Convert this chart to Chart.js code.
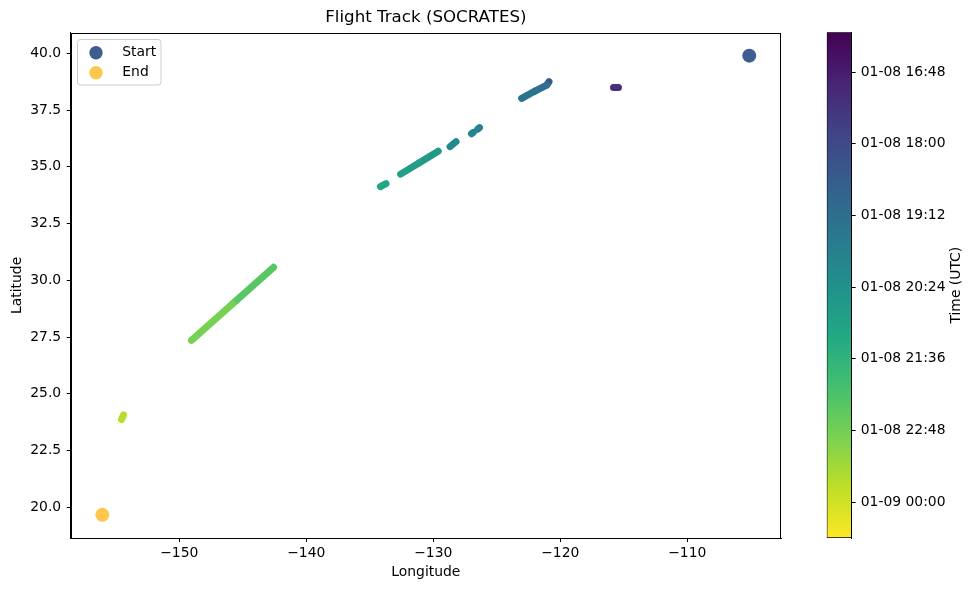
<!DOCTYPE html>
<html>
<head>
<meta charset="utf-8">
<title>Flight Track (SOCRATES)</title>
<script src="https://cdn.jsdelivr.net/npm/chart.js@4.4.0/dist/chart.umd.min.js"></script>
<style>
  html, body { margin: 0; padding: 0; background: #fff; }
  #wrap { position: relative; width: 974px; height: 590px; }
  #track { position: absolute; left: 0; top: 0; }
  #cbar { position: absolute; left: 800px; top: 0; }
</style>
</head>
<body>
<div id="wrap">
  <canvas id="track" width="974" height="590"></canvas>
  <canvas id="cbar" width="174" height="590"></canvas>
</div>
<script>
// flight track; null splits the pieces
var trackLon = [-115.81, -115.42, null,
  -120.89, -121.07, -121.99, -123.04, null,
  -126.36, -126.50, null, -126.85, -126.99, null,
  -128.21, -128.68, null,
  -129.61, -131.10, -132.57, null,
  -133.72, -134.16, null,
  -142.58, -145.81, -149.04, null,
  -154.39, -154.55];
var trackLat = [38.50, 38.50, null,
  38.75, 38.60, 38.34, 38.02, null,
  36.73, 36.66, null, 36.52, 36.46, null,
  36.11, 35.89, null,
  35.69, 35.18, 34.68, null,
  34.26, 34.13, null,
  30.575, 28.965, 27.355, null,
  24.07, 23.87];
var trackTime = ['01-08 17:15', '01-08 17:20', null,
  '01-08 17:55', '01-08 19:05', '01-08 19:15', '01-08 19:28', null,
  '01-08 19:50', '01-08 19:52', null, '01-08 19:56', '01-08 19:58', null,
  '01-08 20:05', '01-08 20:08', null,
  '01-08 20:35', '01-08 20:45', '01-08 20:55', null,
  '01-08 21:05', '01-08 21:08', null,
  '01-08 22:10', '01-08 22:37', '01-08 23:05', null,
  '01-08 23:40', '01-08 23:42'];

var startPoint = [-105.12, 39.90];
var endPoint = [-156.06, 19.67];

var xTicks = [-150, -140, -130, -120, -110];
var yTicks = [20, 22.5, 25, 27.5, 30, 32.5, 35, 37.5, 40];
var cbTicks = ['01-08 16:48', '01-08 18:00', '01-08 19:12', '01-08 20:24',
  '01-08 21:36', '01-08 22:48', '01-09 00:00'];
var timeMin = '01-08 16:08';
var timeMax = '01-09 00:36';

var viridisStops = ['#440154', '#482475', '#414487', '#355f8d', '#2a788e', '#21918c',
  '#22a884', '#44bf70', '#7ad151', '#bddf26', '#fde725'];

Chart.defaults.font.family = 'DejaVu Sans';
Chart.defaults.font.size = 13.9;
Chart.defaults.color = '#000';

function toMin(s) {
  // 'MM-DD HH:MM' -> minutes from 01-08 00:00
  var day = parseInt(s.slice(3, 5), 10);
  var h = parseInt(s.slice(6, 8), 10);
  var m = parseInt(s.slice(9, 11), 10);
  return (day - 8) * 1440 + h * 60 + m;
}

function hexRgb(h) {
  return [parseInt(h.slice(1, 3), 16), parseInt(h.slice(3, 5), 16), parseInt(h.slice(5, 7), 16)];
}

function viridis(t) {
  t = Math.max(0, Math.min(1, t));
  var n = viridisStops.length - 1;
  var i = Math.min(n - 1, Math.floor(t * n));
  var f = t * n - i;
  var a = hexRgb(viridisStops[i]), b = hexRgb(viridisStops[i + 1]);
  var c = a.map((v, k) => Math.round(v + (b[k] - v) * f));
  return 'rgb(' + c.join(',') + ')';
}

var tMin = toMin(timeMin), tMax = toMin(timeMax);
function timeColor(t) { return viridis((t - tMin) / (tMax - tMin)); }

var trackData = trackLon.map((x, i) => ({
  x: x,
  y: trackLat[i],
  t: trackTime[i] ? toMin(trackTime[i]) : null
}));

// matplotlib-style box around the axes
var spines = {
  id: 'spines',
  afterDraw(chart) {
    var a = chart.chartArea, ctx = chart.ctx;
    ctx.save();
    ctx.strokeStyle = '#000';
    ctx.lineWidth = 1;
    ctx.strokeRect(Math.round(a.left) + 0.5, Math.round(a.top) + 0.5,
      Math.round(a.right - a.left) - 1, Math.round(a.bottom - a.top));
    ctx.restore();
  }
};

// legend box in the upper left corner
var boxLegend = {
  id: 'boxLegend',
  afterDraw(chart) {
    var ctx = chart.ctx;
    var items = chart.data.datasets.filter(d => d.inLegend);
    ctx.save();
    ctx.beginPath();
    ctx.roundRect(77.5, 39.5, 83.5, 45.5, 3);
    ctx.fillStyle = 'rgba(255,255,255,0.8)';
    ctx.fill();
    ctx.strokeStyle = '#cccccc';
    ctx.lineWidth = 1;
    ctx.stroke();
    items.forEach((d, i) => {
      var y = 52.7 + i * 20;
      ctx.beginPath();
      ctx.arc(96, y, 6.7, 0, Math.PI * 2);
      ctx.fillStyle = d.backgroundColor;
      ctx.fill();
      ctx.fillStyle = '#000';
      ctx.font = '13.9px "DejaVu Sans"';
      ctx.textAlign = 'left';
      ctx.textBaseline = 'middle';
      ctx.fillText(d.label, 122.3, y);
    });
    ctx.restore();
  }
};

new Chart(document.getElementById('track'), {
  type: 'scatter',
  data: {
    datasets: [
      {
        type: 'line',
        label: 'track',
        data: trackData,
        pointRadius: 0,
        pointHoverRadius: 0,
        borderWidth: 7,
        borderCapStyle: 'round',
        borderJoinStyle: 'round',
        borderColor: '#21918c',
        spanGaps: false,
        order: 2,
        segment: {
          borderColor: ctx => timeColor((trackData[ctx.p0DataIndex].t + trackData[ctx.p1DataIndex].t) / 2)
        }
      },
      {
        label: 'Start',
        inLegend: true,
        data: [{x: startPoint[0], y: startPoint[1]}],
        pointRadius: 7,
        pointHoverRadius: 7,
        borderWidth: 0,
        backgroundColor: '#3e5d93',
        order: 1
      },
      {
        label: 'End',
        inLegend: true,
        data: [{x: endPoint[0], y: endPoint[1]}],
        pointRadius: 7,
        pointHoverRadius: 7,
        borderWidth: 0,
        backgroundColor: '#fec64d',
        order: 1
      }
    ]
  },
  options: {
    responsive: false,
    animation: false,
    layout: {padding: {left: 0, right: 193, top: 0, bottom: 0}},
    plugins: {
      legend: {display: false},
      tooltip: {enabled: false},
      title: {
        display: true,
        text: 'Flight Track (SOCRATES)',
        fullSize: false,
        color: '#000',
        font: {size: 16.67, weight: 'normal'},
        padding: {top: 8, bottom: 4.7}
      }
    },
    scales: {
      x: {
        min: -158.55,
        max: -102.62,
        afterBuildTicks: s => { s.ticks = xTicks.map(v => ({value: v})); },
        afterFit: s => { s.height = 52; },
        ticks: {
          maxRotation: 0,
          autoSkip: false,
          padding: 3.5,
          callback: v => (v < 0 ? '\u2212' + Math.abs(v) : '' + v)
        },
        grid: {drawOnChartArea: false, tickLength: 4, color: '#000'},
        border: {display: true, color: '#000'},
        title: {display: true, text: 'Longitude', padding: {top: 0, bottom: 9.4}}
      },
      y: {
        min: 18.65,
        max: 40.91,
        afterBuildTicks: s => { s.ticks = yTicks.map(v => ({value: v})); },
        afterFit: s => { s.width = 70.7; },
        ticks: {
          autoSkip: false,
          padding: 5.5,
          callback: v => v.toFixed(1)
        },
        grid: {drawOnChartArea: false, tickLength: 4, color: '#000'},
        border: {display: true, color: '#000'},
        title: {display: true, text: 'Latitude', padding: {top: 8.6, bottom: 0}}
      }
    }
  },
  plugins: [spines, boxLegend]
});

// colour bar, time runs downwards
var cbTitle = {
  id: 'cbTitle',
  afterDraw(chart) {
    var ctx = chart.ctx, a = chart.chartArea;
    ctx.save();
    ctx.translate(156.7, (a.top + a.bottom) / 2);
    ctx.rotate(-Math.PI / 2);
    ctx.font = '13.9px "DejaVu Sans"';
    ctx.fillStyle = '#000';
    ctx.textAlign = 'center';
    ctx.textBaseline = 'middle';
    ctx.fillText('Time (UTC)', 0, 0);
    ctx.restore();
  }
};

new Chart(document.getElementById('cbar'), {
  type: 'bar',
  data: {
    labels: [''],
    datasets: [{
      data: [[tMin, tMax]],
      backgroundColor: ctx => {
        var a = ctx.chart.chartArea;
        if (!a) return viridisStops[5];
        var g = ctx.chart.ctx.createLinearGradient(0, a.top, 0, a.bottom);
        viridisStops.forEach((c, k) => g.addColorStop(k / (viridisStops.length - 1), c));
        return g;
      },
      borderColor: '#000',
      borderWidth: 1,
      borderSkipped: false,
      categoryPercentage: 1,
      barPercentage: 1
    }]
  },
  options: {
    responsive: false,
    animation: false,
    layout: {padding: {left: 26.7, right: 0, top: 32.3, bottom: 52}},
    plugins: {legend: {display: false}, tooltip: {enabled: false}},
    scales: {
      x: {display: false},
      y: {
        position: 'right',
        reverse: true,
        min: tMin,
        max: tMax,
        afterBuildTicks: s => { s.ticks = cbTicks.map(v => ({value: toMin(v)})); },
        afterFit: s => { s.width = 122.3; },
        ticks: {
          autoSkip: false,
          padding: 5,
          callback: (v, i) => cbTicks[i]
        },
        grid: {drawOnChartArea: false, tickLength: 4, color: '#000'},
        border: {display: true, color: '#000'}
      }
    }
  },
  plugins: [cbTitle]
});
</script>
</body>
</html>
